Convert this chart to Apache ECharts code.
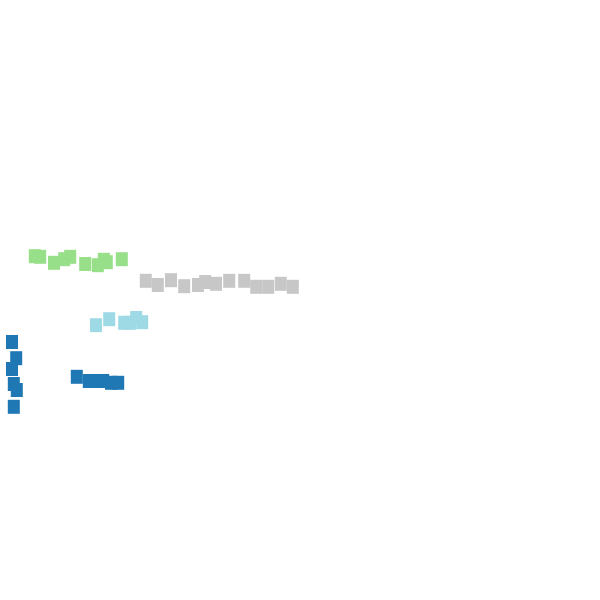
<!DOCTYPE html>
<html>
<head>
<meta charset="utf-8">
<script src="https://cdn.jsdelivr.net/npm/echarts@6/dist/echarts.min.js"></script>
<style>
  html, body { margin: 0; padding: 0; background: #fff; }
  #chart { width: 600px; height: 600px; }
</style>
</head>
<body>
<div id="chart"></div>
<script>
// point groups, [x, y] in chart units (0-100 both ways)
const groupDark = [
  [2.0, 43.0], [2.7, 40.3], [2.0, 38.5], [2.3, 36.0], [2.8, 35.0], [2.3, 32.2],
  [12.8, 37.2], [14.8, 36.5], [16.0, 36.5], [17.2, 36.5], [18.5, 36.2], [19.7, 36.2]
];
const groupLightBlue = [
  [16.0, 45.8], [18.2, 46.8], [20.7, 46.2], [21.7, 46.2], [22.7, 47.0], [23.7, 46.3]
];
const groupGrey = [
  [24.3, 53.2], [26.3, 52.5], [28.5, 53.3], [30.7, 52.3], [33.0, 52.5], [34.2, 53.0],
  [36.0, 52.7], [38.2, 53.2], [40.7, 53.2], [42.7, 52.2], [44.7, 52.2], [46.8, 52.7],
  [48.8, 52.2]
];
const groupGreen = [
  [5.8, 57.3], [6.7, 57.2], [9.0, 56.2], [10.7, 56.8], [11.7, 57.2], [14.2, 56.0],
  [16.3, 55.8], [17.3, 56.7], [17.8, 56.3], [20.3, 56.8]
];

const groupColors = ['#1f77b4', '#9edae5', '#c7c7c7', '#98df8a'];

const chart = echarts.init(document.getElementById('chart'));

function makeSeries(data, color) {
  return {
    type: 'scatter',
    symbol: 'rect',
    symbolSize: [12, 14],
    itemStyle: { color: color, opacity: 1 },
    emphasis: { disabled: true },
    data: data
  };
}

chart.setOption({
  animation: false,
  backgroundColor: '#fff',
  grid: { left: 0, right: 0, top: 0, bottom: 0 },
  xAxis: { type: 'value', min: 0, max: 100, show: false },
  yAxis: { type: 'value', min: 0, max: 100, show: false },
  series: [
    makeSeries(groupDark, groupColors[0]),
    makeSeries(groupLightBlue, groupColors[1]),
    makeSeries(groupGrey, groupColors[2]),
    makeSeries(groupGreen, groupColors[3])
  ]
});
</script>
</body>
</html>
